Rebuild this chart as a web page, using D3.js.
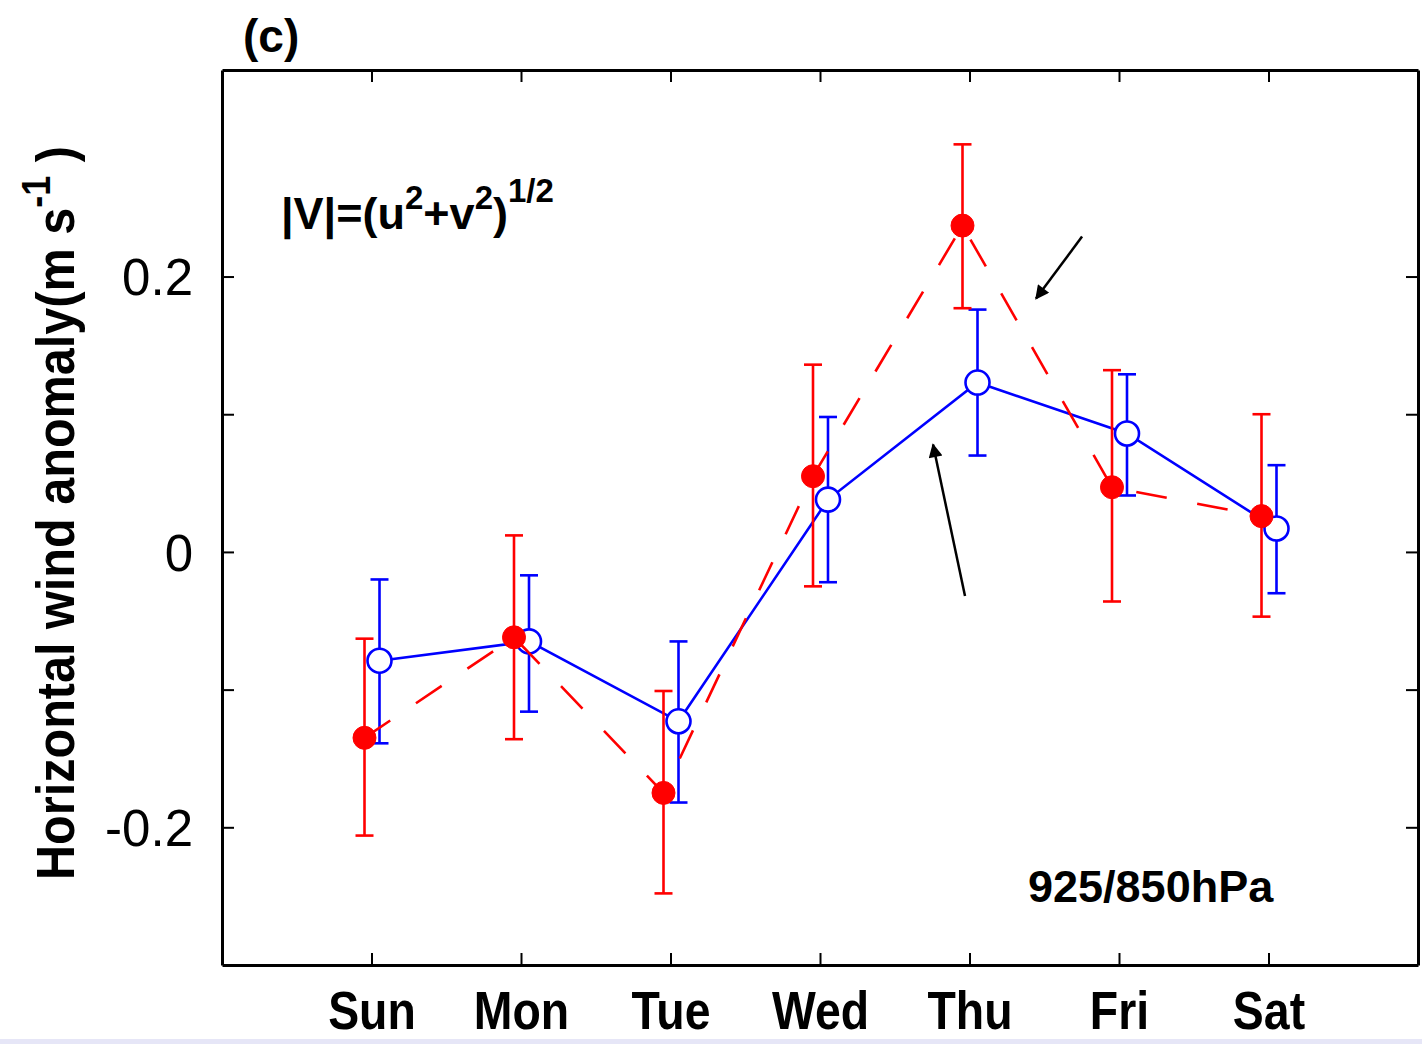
<!DOCTYPE html>
<html>
<head>
<meta charset="utf-8">
<script src="https://cdn.jsdelivr.net/npm/d3@7"></script>
<style>
  body { margin: 0; background: #fff; }
  svg { display: block; }
  text { font-family: "Liberation Sans", Arial, sans-serif; }
</style>
</head>
<body>
<div id="chart"></div>
<script>
// days of week (x categories)
var days = ["Sun", "Mon", "Tue", "Wed", "Thu", "Fri", "Sat"];

// blue series (open circles, solid line)
var blueMean = [-0.079, -0.065, -0.123, 0.038, 0.123, 0.086, 0.017];
var blueHigh = [-0.020, -0.017, -0.065, 0.098, 0.176, 0.129, 0.063];
var blueLow  = [-0.139, -0.116, -0.182, -0.022, 0.070, 0.041, -0.030];

// red series (filled circles, dashed line)
var redMean = [-0.135, -0.062, -0.175, 0.055, 0.237, 0.047, 0.026];
var redHigh = [-0.063, 0.012, -0.101, 0.136, 0.296, 0.132, 0.100];
var redLow  = [-0.206, -0.136, -0.248, -0.025, 0.177, -0.036, -0.047];

var yTicks = [-0.2, -0.1, 0, 0.1, 0.2];
var yLabels = ["-0.2", "", "0", "", "0.2"];

// annotation arrows [x1, y1, x2, y2] in data units (head at x2,y2)
var arrows = [
  [5.753, 0.229, 5.445, 0.184],
  [4.970, -0.032, 4.756, 0.078]
];

var W = 1422, H = 1044;
var margin = {top: 70, right: 4, bottom: 79, left: 222};

var svg = d3.select("#chart").append("svg")
    .attr("width", W)
    .attr("height", H);

var x = d3.scaleLinear().domain([0, 8]).range([margin.left, W - margin.right]);
var y = d3.scaleLinear().domain([-0.3, 0.35]).range([H - margin.bottom, margin.top]);

// faint strip at the very bottom of the picture
svg.append("rect")
    .attr("x", 0).attr("y", H - 5)
    .attr("width", W).attr("height", 5)
    .attr("fill", "#e6e6f7");

svg.append("defs").append("marker")
    .attr("id", "head")
    .attr("viewBox", "0 0 10 10")
    .attr("refX", 9).attr("refY", 5)
    .attr("markerWidth", 20).attr("markerHeight", 14)
    .attr("markerUnits", "userSpaceOnUse")
    .attr("orient", "auto")
  .append("path")
    .attr("d", "M0,0 L10,5 L0,10 z")
    .attr("fill", "#000");

// frame + inward ticks
var tickLen = 12;
var dayIdx = days.map(function(d, i) { return i + 1; });

var gBottom = svg.append("g")
    .attr("transform", "translate(0," + y.range()[0] + ")")
    .call(d3.axisBottom(x).tickValues(dayIdx)
        .tickFormat(function(i) { return days[i - 1]; })
        .tickSizeInner(-tickLen).tickSizeOuter(0).tickPadding(0));
var gTop = svg.append("g")
    .attr("transform", "translate(0," + y.range()[1] + ")")
    .call(d3.axisTop(x).tickValues(dayIdx).tickFormat("")
        .tickSizeInner(-tickLen).tickSizeOuter(0));
var gLeft = svg.append("g")
    .attr("transform", "translate(" + x.range()[0] + ",0)")
    .call(d3.axisLeft(y).tickValues(yTicks)
        .tickFormat(function(d, i) { return yLabels[i]; })
        .tickSizeInner(-tickLen).tickSizeOuter(0).tickPadding(0));
var gRight = svg.append("g")
    .attr("transform", "translate(" + x.range()[1] + ",0)")
    .call(d3.axisRight(y).tickValues(yTicks).tickFormat("")
        .tickSizeInner(-tickLen).tickSizeOuter(0));

[gBottom, gTop, gLeft, gRight].forEach(function(g) {
    g.select(".domain").attr("stroke", "#000").attr("stroke-width", 3);
    g.selectAll(".tick line").attr("stroke", "#000").attr("stroke-width", 2);
});

gBottom.selectAll(".tick text")
    .attr("y", 0).attr("dy", 0)
    .attr("fill", "#000")
    .style("font-size", "54px")
    .style("font-weight", "bold")
    .attr("transform", "translate(0,64) scale(0.86,1)");

gLeft.selectAll(".tick text")
    .attr("x", -29).attr("dy", "0.36em")
    .attr("fill", "#000")
    .style("font-size", "51px");

var blueDx = 8, redDx = -7;
var blue = blueMean.map(function(v, i) { return {i: i + 1, v: v, hi: blueHigh[i], lo: blueLow[i]}; });
var red = redMean.map(function(v, i) { return {i: i + 1, v: v, hi: redHigh[i], lo: redLow[i]}; });

function drawSeries(data, dx, color, dashed, filled) {
    var g = svg.append("g");
    var line = d3.line()
        .x(function(d) { return x(d.i) + dx; })
        .y(function(d) { return y(d.v); });
    g.append("path")
        .datum(data)
        .attr("d", line)
        .attr("fill", "none")
        .attr("stroke", color)
        .attr("stroke-width", 2.6)
        .attr("stroke-dasharray", dashed ? "31,31" : null);

    var eb = g.selectAll(".eb").data(data).enter().append("g")
        .attr("stroke", color).attr("stroke-width", 2.6);
    eb.append("line")
        .attr("x1", function(d) { return x(d.i) + dx; })
        .attr("x2", function(d) { return x(d.i) + dx; })
        .attr("y1", function(d) { return y(d.hi); })
        .attr("y2", function(d) { return y(d.lo); });
    ["hi", "lo"].forEach(function(k) {
        eb.append("line")
            .attr("x1", function(d) { return x(d.i) + dx - 9; })
            .attr("x2", function(d) { return x(d.i) + dx + 9; })
            .attr("y1", function(d) { return y(d[k]); })
            .attr("y2", function(d) { return y(d[k]); });
    });

    g.selectAll("circle").data(data).enter().append("circle")
        .attr("cx", function(d) { return x(d.i) + dx; })
        .attr("cy", function(d) { return y(d.v); })
        .attr("r", filled ? 11.5 : 12)
        .attr("fill", filled ? color : "#fff")
        .attr("stroke", color)
        .attr("stroke-width", filled ? 1 : 2.6);
}

drawSeries(blue, blueDx, "#0000ff", false, false);
drawSeries(red, redDx, "#ff0000", true, true);

// arrows
svg.selectAll(".arrow").data(arrows).enter().append("line")
    .attr("class", "arrow")
    .attr("x1", function(d) { return x(d[0]); })
    .attr("y1", function(d) { return y(d[1]); })
    .attr("x2", function(d) { return x(d[2]); })
    .attr("y2", function(d) { return y(d[3]); })
    .attr("stroke", "#000")
    .attr("stroke-width", 2.5)
    .attr("marker-end", "url(#head)");

// texts
svg.append("text")
    .attr("x", 243).attr("y", 52)
    .style("font-size", "46px").style("font-weight", "bold")
    .text("(c)");

var f = svg.append("text")
    .attr("x", 281).attr("y", 229)
    .style("font-size", "45px").style("font-weight", "bold");
f.append("tspan").text("|V|=(u");
f.append("tspan").attr("dy", -20).style("font-size", "33px").text("2");
f.append("tspan").attr("dy", 20).text("+v");
f.append("tspan").attr("dy", -20).style("font-size", "33px").text("2");
f.append("tspan").attr("dy", 20).text(")");
f.append("tspan").attr("dy", -27).style("font-size", "33px").text("1/2");

svg.append("text")
    .attr("x", 1028).attr("y", 902)
    .style("font-size", "45px").style("font-weight", "bold")
    .text("925/850hPa");

var yt = svg.append("text")
    .attr("transform", "translate(74,880) rotate(-90) scale(0.9,1)")
    .style("font-size", "54px").style("font-weight", "bold");
yt.append("tspan").text("Horizontal wind anomaly(m s");
yt.append("tspan").attr("dy", -24).style("font-size", "40px").text("-1");
yt.append("tspan").attr("dy", 24).text(" )");
</script>
</body>
</html>
